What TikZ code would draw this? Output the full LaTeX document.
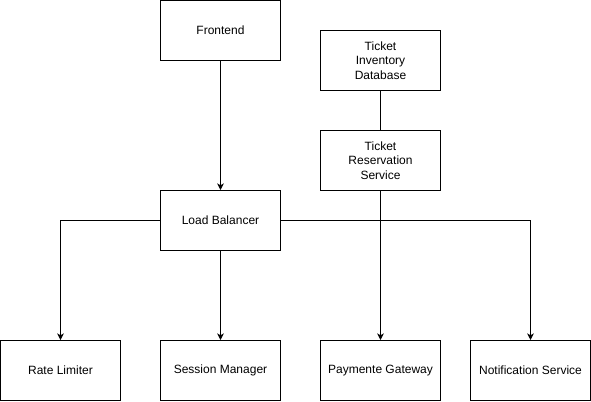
\documentclass[tikz,border=0pt]{standalone}
\usepackage{fontspec}
\setmainfont{Liberation Sans}
\usepackage{tikz}
\usetikzlibrary{arrows.meta, positioning}

\begin{document}
\begin{tikzpicture}[
  x=0.75pt, y=-0.75pt,
  box/.style={draw=black, fill=white, line width=0.75pt, minimum width=90pt, minimum height=45pt, align=center, font=\fontsize{9}{11}\selectfont},
  arr/.style={-{Stealth[length=5pt, width=5pt, inset=1.5pt]}, line width=0.75pt},
  plain/.style={line width=0.75pt}
]
  \useasboundingbox (0,0) rectangle (591,401);

  \node[box] (front) at (220.5,30.5) {Frontend};
  \node[box] (db) at (380.5,60.5) {Ticket\\Inventory\\Database};
  \node[box] (resv) at (380.5,160.5) {Ticket\\Reservation\\Service};
  \node[box] (lb) at (220.5,220.5) {Load Balancer};

  \node[box] (rate) at (60.5,370.5) {Rate Limiter};
  \node[box] (session) at (220.5,370.5) {Session Manager};
  \node[box] (pay) at (380.5,370.5) {Paymente Gateway};
  \node[box] (notif) at (530.5,370.5) {Notification Service};

  \draw[arr] (front) -- (lb);
  \draw[plain] (db) -- (resv);
  \draw[arr] (lb.west) -| (rate);
  \draw[arr] (lb) -- (session);
  \draw[arr] (lb.east) -| (notif);
  \draw[arr] (resv) -- (pay);
\end{tikzpicture}
\end{document}
